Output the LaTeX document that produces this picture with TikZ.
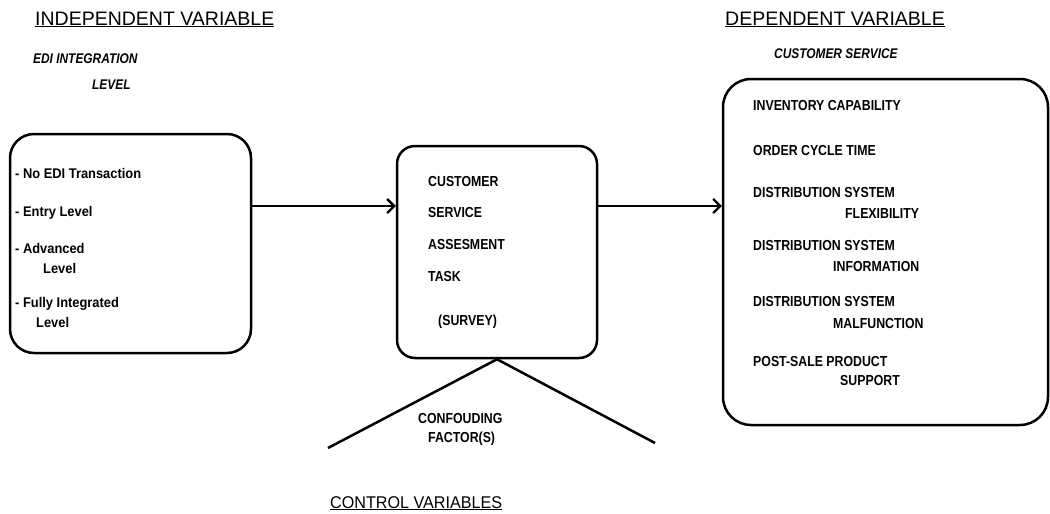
\documentclass[tikz,border=0pt]{standalone}
\usepackage{fontspec}
\setmainfont{Liberation Sans}
\newfontfamily\nf{Liberation Sans}[FakeStretch=0.85]
\newfontfamily\nfw{Liberation Sans}[FakeStretch=0.92]
\newfontfamily\nfc{Liberation Sans}[FakeStretch=0.95]
\usetikzlibrary{arrows.meta}
\begin{document}
\begin{tikzpicture}[x=1pt,y=-1pt,
  box/.style={draw,line width=2.5pt,inner sep=0pt},
  t/.style={anchor=base west,inner sep=0pt,font=\nf\bfseries\fontsize{14.5}{16}\selectfont},
  tl/.style={anchor=base west,inner sep=0pt,font=\nfw\bfseries\fontsize{14}{16}\selectfont},
  hd/.style={anchor=base west,inner sep=0pt,font=\fontsize{19.5}{22}\selectfont},
  it/.style={anchor=base west,inner sep=0pt,font=\nf\bfseries\itshape\fontsize{14}{16}\selectfont},
  conn/.style={line width=2.5pt},
  arr/.style={conn,-{Straight Barb[length=7pt,width=14pt,line width=2.3pt]}}]
\useasboundingbox (0,0) rectangle (1050,514);

% headings
\node[hd] (hind) at (35,25) {\underline{INDEPENDENT VARIABLE}};
\node[hd] (hdep) at (725,25) {\underline{DEPENDENT VARIABLE}};
\node[anchor=base west,inner sep=0pt,font=\nfc\fontsize{17}{20}\selectfont] (hctl) at (330,508) {\underline{CONTROL VARIABLES}};
\node[it] (edi1) at (33,63) {EDI INTEGRATION};
\node[it] (edi2) at (92,89) {LEVEL};
\node[it] (cs) at (774,58) {CUSTOMER SERVICE};

% boxes
\node[box,rounded corners=24pt,minimum width=241pt,minimum height=219pt] (lbox) at (130.5,243.5) {};
\node[box,rounded corners=18pt,minimum width=200pt,minimum height=212pt] (mbox) at (497,252) {};
\node[box,rounded corners=28pt,minimum width=325pt,minimum height=346pt] (rbox) at (885.5,252) {};

% left box text
\node[tl] (l1) at (15,178) {- No EDI Transaction};
\node[tl] (l2) at (15,216) {- Entry Level};
\node[tl] (l3) at (15,253) {- Advanced};
\node[tl] (l3b) at (43,273) {Level};
\node[tl] (l4) at (15,307) {- Fully Integrated};
\node[tl] (l4b) at (36,327) {Level};

% middle box text
\node[t] (m1) at (428,186) {CUSTOMER};
\node[t] (m2) at (428,217) {SERVICE};
\node[t] (m3) at (428,249) {ASSESMENT};
\node[t] (m4) at (428,281) {TASK};
\node[t] (m5) at (438,325) {(SURVEY)};

% right box text
\node[t] (r1) at (753,110) {INVENTORY CAPABILITY};
\node[t] (r2) at (753,155) {ORDER CYCLE TIME};
\node[t] (r3) at (753,197) {DISTRIBUTION SYSTEM};
\node[t] (r3b) at (845,218) {FLEXIBILITY};
\node[t] (r4) at (753,250) {DISTRIBUTION SYSTEM};
\node[t] (r4b) at (833,271) {INFORMATION};
\node[t] (r5) at (753,306) {DISTRIBUTION SYSTEM};
\node[t] (r5b) at (833,328) {MALFUNCTION};
\node[t] (r6) at (753,366) {POST-SALE PRODUCT};
\node[t] (r6b) at (840,385) {SUPPORT};

% confounding
\node[t] (cf1) at (418,423) {CONFOUDING};
\node[t] (cf2) at (428,442) {FACTOR(S)};

% connectors
\coordinate (ya) at (0,206);
\draw[arr] (lbox.east |- ya) -- (mbox.west |- ya);
\draw[arr] (mbox.east |- ya) -- (rbox.west |- ya);
\coordinate (vl) at (328,448);
\coordinate (vr) at (655,443);
\draw[conn] (vl) -- (mbox.south) -- (vr);
\end{tikzpicture}
\end{document}
